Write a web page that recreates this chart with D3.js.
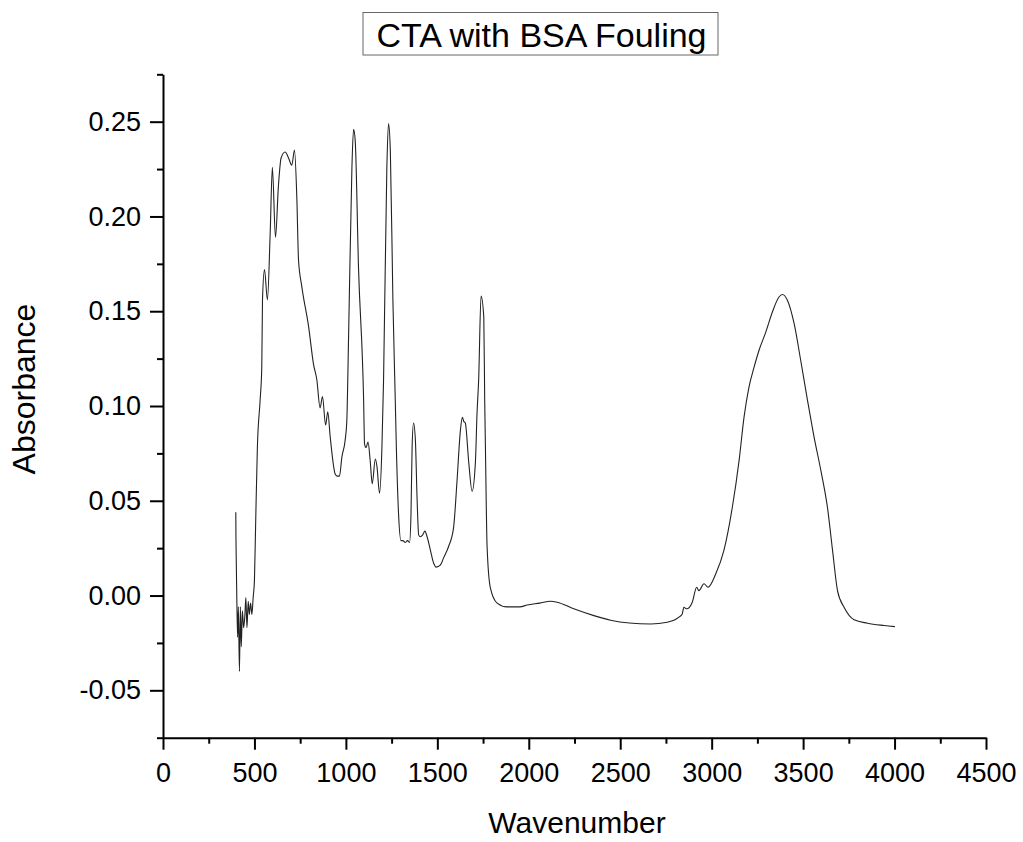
<!DOCTYPE html>
<html>
<head>
<meta charset="utf-8">
<script src="https://cdn.jsdelivr.net/npm/d3@7/dist/d3.min.js"></script>
<style>
html,body{margin:0;padding:0;background:#fff;}
svg{display:block;}
text{font-family:"Liberation Sans",Arial,sans-serif;fill:#000;}
</style>
</head>
<body>
<svg id="chart" width="1023" height="842"></svg>
<script>
const title = "CTA with BSA Fouling";
const xTitle = "Wavenumber";
const yTitle = "Absorbance";
const xTicks = [0, 500, 1000, 1500, 2000, 2500, 3000, 3500, 4000, 4500];
const yTicks = [-0.05, 0.00, 0.05, 0.10, 0.15, 0.20, 0.25];

const wavenumber = [398,399,400,404,408,412,418,423,428,434,441,448,453,459,466,472,479,486,493,500,507,516,531,540,544,555,571,586,598,615,631,646,668,686,704,719,732,741,759,796,823,841,859,872,889,901,914,942,954,965,978,996,1005,1015,1033,1042,1051,1069,1097,1102,1110,1121,1133,1144,1161,1170,1184,1197,1206,1224,1233,1243,1257,1270,1276,1288,1301,1312,1325,1337,1348,1356,1362,1370,1380,1389,1398,1407,1420,1432,1444,1462,1480,1494,1516,1535,1562,1589,1608,1626,1637,1644,1653,1672,1690,1708,1717,1726,1739,1754,1759,1763,1772,1790,1827,1881,1951,1991,2060,2119,2155,2246,2356,2447,2550,2666,2757,2821,2839,2848,2863,2894,2918,2930,2958,2980,3022,3067,3113,3150,3177,3204,3232,3259,3296,3332,3368,3387,3414,3451,3487,3524,3560,3597,3633,3661,3688,3724,3779,3852,3943,4002];
const absorbance = [0.044,0.030,0.022,-0.004,-0.022,-0.006,-0.040,-0.006,-0.027,-0.008,-0.017,-0.010,-0.001,-0.017,-0.003,-0.010,-0.004,-0.010,-0.001,0.008,0.040,0.078,0.103,0.120,0.156,0.172,0.156,0.191,0.226,0.189,0.216,0.231,0.234,0.231,0.227,0.235,0.209,0.177,0.163,0.142,0.122,0.114,0.099,0.105,0.090,0.097,0.084,0.064,0.063,0.063,0.073,0.082,0.092,0.138,0.226,0.246,0.240,0.173,0.103,0.080,0.078,0.081,0.071,0.059,0.072,0.068,0.054,0.078,0.114,0.226,0.249,0.235,0.156,0.103,0.078,0.043,0.029,0.029,0.028,0.029,0.028,0.043,0.078,0.091,0.082,0.052,0.032,0.031,0.032,0.034,0.031,0.024,0.017,0.015,0.016,0.020,0.026,0.036,0.061,0.087,0.094,0.092,0.091,0.070,0.055,0.070,0.096,0.114,0.158,0.147,0.103,0.078,0.026,0.004,-0.004,-0.006,-0.006,-0.005,-0.004,-0.003,-0.0035,-0.007,-0.0106,-0.013,-0.0145,-0.015,-0.0141,-0.0114,-0.0097,-0.0062,-0.007,-0.0035,0.0044,0.0026,0.0062,0.0044,0.0114,0.0238,0.0466,0.0713,0.0941,0.110,0.1205,0.1294,0.139,0.1496,0.1575,0.1588,0.1558,0.1434,0.124,0.103,0.0836,0.066,0.0466,0.0238,0.0026,-0.0062,-0.0128,-0.0146,-0.0158,-0.0164];

const data = wavenumber.map((w, i) => ({w, a: absorbance[i]}));

const svg = d3.select("#chart");
const L = 163, R = 986, T = 74.3, B = 737.7;

const x = d3.scaleLinear().domain([0, 4500]).range([L, R]);
const y = d3.scaleLinear().domain([-0.075, 0.275]).range([B, T]);

const fmtY = d => d3.format(".2f")(d).replace("−", "-");

// Title with box
svg.append("rect").attr("x", 363).attr("y", 12.5).attr("width", 355).attr("height", 42.5)
  .attr("fill", "none").attr("stroke", "#666").attr("stroke-width", 1);
svg.append("text").attr("x", 541.5).attr("y", 47).attr("text-anchor", "middle")
  .style("font-size", "34px").text(title);

// X axis
const xMinor = d3.range(0, 4501, 250).filter(v => v % 500 !== 0);
const gx = svg.append("g").attr("transform", `translate(0,${B})`);
gx.append("g").call(d3.axisBottom(x).tickValues(xMinor).tickSize(6).tickFormat(""))
  .call(g => g.select(".domain").remove());
gx.append("g").call(d3.axisBottom(x).tickValues(xTicks).tickSize(12).tickSizeOuter(0).tickPadding(13).tickFormat(d3.format("d")));
gx.selectAll("line").attr("stroke", "#000").attr("stroke-width", 2);
gx.selectAll(".domain").attr("stroke", "#000").attr("stroke-width", 2);
gx.selectAll("text").style("font-size", "27px").attr("fill", "#000");

// Y axis
const yMinor = [-0.075, -0.025, 0.025, 0.075, 0.125, 0.175, 0.225, 0.275];
const gy = svg.append("g").attr("transform", `translate(${L},0)`);
gy.append("g").call(d3.axisLeft(y).tickValues(yMinor).tickSize(6).tickFormat(""))
  .call(g => g.select(".domain").remove());
gy.append("g").call(d3.axisLeft(y).tickValues(yTicks).tickSize(13).tickSizeOuter(0).tickPadding(9).tickFormat(fmtY));
gy.selectAll("line").attr("stroke", "#000").attr("stroke-width", 2);
gy.selectAll(".domain").attr("stroke", "#000").attr("stroke-width", 2);
gy.selectAll("text").style("font-size", "27px").attr("fill", "#000");

// Line
const line = d3.line().x(d => x(d.w)).y(d => y(d.a)).curve(d3.curveMonotoneX);
svg.append("path").datum(data)
  .attr("fill", "none").attr("stroke", "#222").attr("stroke-width", 1.1)
  .attr("stroke-linejoin", "round").attr("d", line);

// Axis titles
svg.append("text").attr("x", 577).attr("y", 833).attr("text-anchor", "middle")
  .style("font-size", "30px").text(xTitle);
svg.append("text").attr("transform", "translate(35,389) rotate(-90)").attr("text-anchor", "middle")
  .style("font-size", "32px").text(yTitle);
</script>
</body>
</html>
